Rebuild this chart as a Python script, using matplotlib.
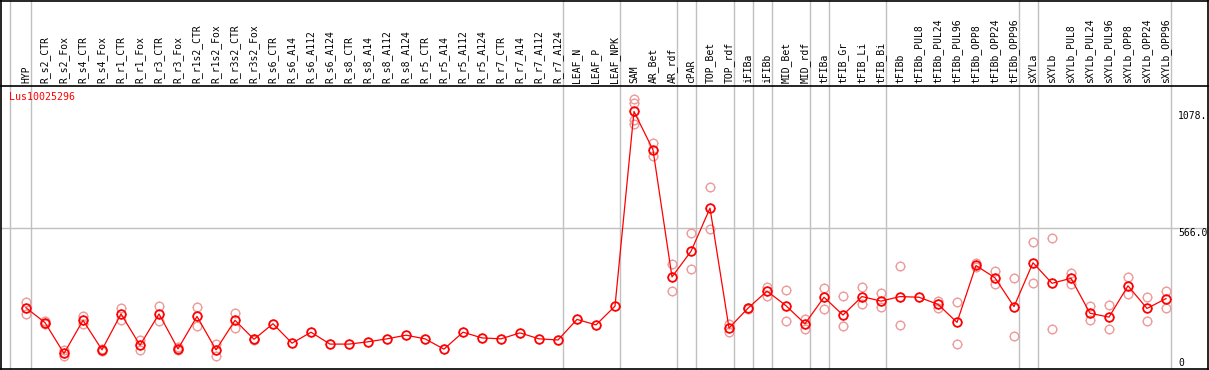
import matplotlib
matplotlib.use("Agg")
import matplotlib.pyplot as plt
from matplotlib.path import Path
import numpy as np

categories = ["HYP", "R_s2_CTR", "R_s2_Fox", "R_s4_CTR", "R_s4_Fox", "R_r1_CTR", "R_r1_Fox",
              "R_r3_CTR", "R_r3_Fox", "R_r1s2_CTR", "R_r1s2_Fox", "R_r3s2_CTR", "R_r3s2_Fox",
              "R_s6_CTR", "R_s6_A14", "R_s6_A112", "R_s6_A124", "R_s8_CTR", "R_s8_A14", "R_s8_A112",
              "R_s8_A124", "R_r5_CTR", "R_r5_A14", "R_r5_A112", "R_r5_A124", "R_r7_CTR", "R_r7_A14",
              "R_r7_A112", "R_r7_A124", "LEAF_N", "LEAF_P", "LEAF_NPK", "SAM", "AR_Bet", "AR_rdf",
              "cPAR", "TOP_Bet", "TOP_rdf", "iFIBa", "iFIBb", "MID_Bet", "MID_rdf", "tFIBa", "tFIB_Gr",
              "tFIB_Li", "tFIB_Bi", "tFIBb", "tFIBb_PUL8", "tFIBb_PUL24", "tFIBb_PUL96", "tFIBb_OPP8",
              "tFIBb_OPP24", "tFIBb_OPP96", "sXYLa", "sXYLb", "sXYLb_PUL8", "sXYLb_PUL24",
              "sXYLb_PUL96", "sXYLb_OPP8", "sXYLb_OPP24", "sXYLb_OPP96"]

means = [219, 154, 19, 164, 35, 192, 55, 192, 39, 181, 35, 164, 81, 149, 64, 112, 60, 60, 70, 83,
         99, 83, 38, 112, 87, 83, 109, 83, 78, 168, 144, 226, 1078, 910, 354, 466, 655, 130, 217,
         292, 228, 149, 265, 187, 268, 248, 268, 265, 234, 155, 404, 350, 224, 416, 326, 348, 195,
         178, 315, 216, 259]

replicates = [[243, 192], [160, 146], [35, 6], [183, 148], [40, 30], [216, 165], [78, 35],
              [226, 161], [47, 32], [222, 139], [60, 9], [196, 129], [84, 78], [], [], [], [], [],
              [], [], [], [], [], [], [], [], [], [], [], [], [], [],
              [1133, 1115, 1040, 1025], [941, 884], [410, 293], [545, 387], [746, 562], [147, 111],
              [220, 214], [312, 271], [297, 162], [169, 128], [305, 213], [270, 141], [309, 234],
              [283, 224], [402, 144], [], [249, 219], [243, 62], [416, 398], [382, 323], [350, 94],
              [505, 329], [523, 126], [372, 324], [225, 164], [229, 125], [352, 279], [267, 160],
              [294, 220]]

group_ends = [-1, 0, 28, 31, 34, 35, 37, 38, 39, 41, 42, 45, 52, 53, 60]
gene_id = "Lus10025296"
ytick_values = [1078, 566, 0]
ytick_labels = ["1078.", "566.0", "0"]

W, H = 1209, 370
fig = plt.figure(figsize=(W / 100, H / 100), dpi=100)
ax = fig.add_axes([0, 0, 1, 1])
ax.set_axis_off()

# pixel mapping: x_pix = 26 + 19*i ; y_pix(top) = 357.8 - 0.2285*v
x0, dx = 26.0, 19.0
y0, ky = 357.8, 0.2285
xmin, xmax = -x0 / dx, (W - x0) / dx
ax.set_xlim(xmin, xmax)
ax.set_ylim((y0 - H) / ky, y0 / ky)

def fy(p):  # pixel from top -> axes fraction
    return 1 - p / H

def fx(p):
    return p / W

gray = "#c0c0c0"
xt = ax.get_xaxis_transform()
for g in group_ends:
    xs = g + 0.24 if g >= 0 else -0.84
    ax.plot([xs, xs], [0, 1], transform=xt, color=gray, lw=1.0, zorder=1)
ax.axhline(566, xmin=fx(1), xmax=fx(1208), color=gray, lw=1.0, zorder=1)

kb = dict(transform=ax.transAxes, color="black", lw=1.2, zorder=6, clip_on=False)
ax.plot([fx(1), fx(1208)], [fy(0.6), fy(0.6)], **kb)
ax.plot([fx(1), fx(1208)], [fy(85.5), fy(85.5)], **kb)
ax.plot([fx(1), fx(1208)], [fy(369), fy(369)], **kb)
ax.plot([fx(1), fx(1)], [fy(0), fy(369)], **kb)
ax.plot([fx(1208), fx(1208)], [fy(0), fy(369)], **kb)

for i, c in enumerate(categories):
    ax.text(i, fy(83), c, transform=xt, rotation=90, ha="center", va="bottom",
            fontsize=7, family="DejaVu Sans Mono", color="black", zorder=5)

ax.text(fx(9), fy(92), gene_id, transform=ax.transAxes, ha="left", va="top",
        fontsize=7.2, family="DejaVu Sans Mono", color="red", zorder=5)

xlab = xmin + fx(1178) * (xmax - xmin)
for v, lab in zip(ytick_values, ytick_labels):
    t = ax.text(xlab, v, lab, ha="left", va="top", fontsize=7,
                family="DejaVu Sans Mono", color="black", zorder=5)
    t.set_clip_on(True)

# tick-only marker (four short spokes outside the circle)
r0, r1 = 1.0, 1.3
verts = [[0, r0], [0, r1], [0, -r0], [0, -r1], [r0, 0], [r1, 0], [-r0, 0], [-r1, 0]]
codes = [Path.MOVETO, Path.LINETO] * 4
spokes = Path(verts, codes)

idx = np.arange(len(categories))
rx, ry = [], []
for i, reps in enumerate(replicates):
    for v in reps:
        rx.append(i)
        ry.append(v)

circ_ms = 6.2
spoke_ms = 7.9
rep_col = "#ee9a9a"
ax.plot(rx, ry, linestyle="none", marker="o", markersize=circ_ms, markerfacecolor="none",
        markeredgecolor=rep_col, markeredgewidth=1.0, zorder=3)
ax.plot(rx, ry, linestyle="none", marker=spokes, markersize=spoke_ms,
        markeredgecolor=rep_col, markeredgewidth=0.7, zorder=3)
ax.plot(idx, means, color="red", lw=0.9, zorder=4)
ax.plot(idx, means, linestyle="none", marker="o", markersize=circ_ms, markerfacecolor="none",
        markeredgecolor="red", markeredgewidth=1.3, zorder=4)
ax.plot(idx, means, linestyle="none", marker=spokes, markersize=spoke_ms,
        markeredgecolor="red", markeredgewidth=0.7, zorder=4)

fig.savefig("out.png", dpi=100)
